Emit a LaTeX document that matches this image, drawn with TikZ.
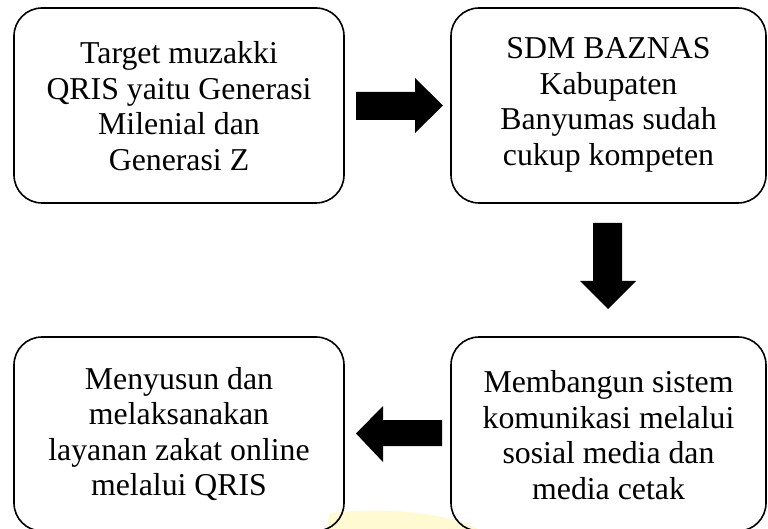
\documentclass[tikz,border=0pt]{standalone}
\usepackage{fontspec}
\setmainfont{Liberation Serif}
\definecolor{wmyellow}{HTML}{FFFAD2}
\begin{document}
\begin{tikzpicture}[x=1pt,y=-1pt,
  flowbox/.style={draw=black, line width=1.6pt, rounded corners=28pt},
  flowtext/.style={align=center, font=\fontsize{31.8}{35.6}\selectfont, inner sep=0pt},
  blockarrow/.style={fill=black, draw=none}]
\useasboundingbox (0,0) rectangle (768,529);
% faint watermark fragment
\fill[wmyellow] (327,529) -- (329,514) .. controls (360,508) and (420,509) .. (462,522) -- (478,529) -- cycle;
% boxes
\draw[flowbox] (14,8) rectangle (344,203);
\draw[flowbox] (451,8) rectangle (766,203);
\draw[flowbox] (14,337) rectangle (344,531);
\draw[flowbox] (451,337) rectangle (766,531);
\node[flowtext] (a) at (179,106) {Target muzakki\\QRIS yaitu Generasi\\Milenial dan\\Generasi Z};
\node[flowtext] (b) at (608.5,105) {SDM BAZNAS\\Kabupaten\\Banyumas sudah\\cukup kompeten};
\node[flowtext] (d) at (179,434) {Menyusun dan\\melaksanakan\\layanan zakat online\\melalui QRIS};
\node[flowtext] (c) at (608.5,435) {Membangun sistem\\komunikasi melalui\\sosial media dan\\media cetak};
% block arrows
\fill[blockarrow] (356,92) -- (415,92) -- (415,78) -- (443,105.5) -- (415,133) -- (415,120) -- (356,120) -- cycle;
\fill[blockarrow] (593,223) -- (622,223) -- (622,281) -- (636,281) -- (608,309) -- (580,281) -- (593,281) -- cycle;
\fill[blockarrow] (442,420) -- (383,420) -- (383,406) -- (356,433.5) -- (383,462) -- (383,446) -- (442,446) -- cycle;
\end{tikzpicture}
\end{document}
